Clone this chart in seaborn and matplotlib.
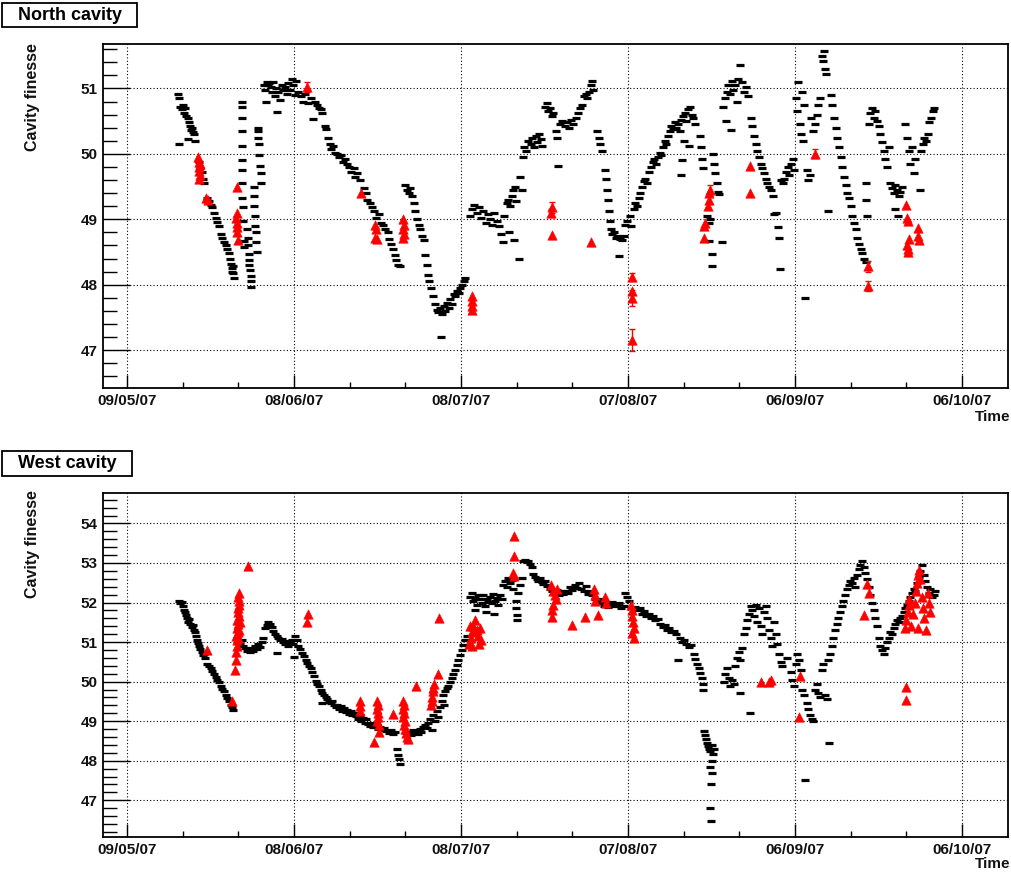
import numpy as np
import pandas as pd
import matplotlib
matplotlib.use("Agg")
import matplotlib.pyplot as plt
import matplotlib.dates as mdates
from matplotlib.ticker import FixedLocator, MultipleLocator
from matplotlib.patches import Rectangle
import seaborn as sns

START = "2007-05-09"
major_days = [0, 30, 60, 90, 120, 150]
minor_days = [10, 20, 40, 50, 70, 80, 100, 110, 130, 140]
north_yticks = [47, 48, 49, 50, 51]
west_yticks = [47, 48, 49, 50, 51, 52, 53, 54]

# (day since 09/05/07, finesse)
north_black = [
    (9.2,50.92),(9.3,50.85),(9.4,50.15),(9.6,50.72),(9.8,50.68),(10.0,50.74),(10.2,50.62),(10.4,50.70),
    (10.6,50.58),(10.9,50.55),(11.1,50.48),(11.3,50.42),(11.5,50.36),(11.7,50.40),(11.9,50.33),(12.1,50.30),
    (12.2,50.20),(11.0,50.22),
    (13.0,49.88),(13.2,49.78),(13.5,49.72),(13.7,49.62),(13.9,49.55),(14.4,49.32),(14.7,49.28),(15.0,49.22),
    (15.3,49.18),(15.6,49.10),(15.9,49.02),(16.2,48.96),(16.5,48.90),(16.8,48.78),(17.1,48.72),(17.4,48.66),
    (17.7,48.60),(18.0,48.55),(18.3,48.48),(18.5,48.40),(18.7,48.32),(18.9,48.25),(19.1,48.18),(19.2,48.10),
    (19.0,48.28),(18.8,48.20),
    (20.6,50.80),(20.6,50.72),(20.7,50.55),(20.6,50.35),(20.7,50.12),(20.6,49.90),(20.7,49.75),(20.6,49.55),
    (20.7,49.33),(20.8,49.18),(20.8,48.97),(21.0,48.67),(21.0,48.57),
    (21.6,48.85),(21.7,48.72),(21.8,48.60),(21.9,48.47),(22.0,48.38),(22.0,48.30),(22.1,48.22),(22.2,48.14),
    (22.2,48.05),(22.3,47.97),
    (22.8,49.50),(22.8,49.35),(22.9,49.20),(23.0,49.05),(23.0,48.90),(23.1,48.80),(23.2,48.65),(23.3,48.50),
    (23.5,50.40),(23.6,50.35),(23.6,50.25),(23.7,50.15),(23.8,49.98),(23.9,49.82),(24.0,49.70),(24.1,49.55),
    (24.6,51.05),(24.8,50.98),(24.9,50.80),(25.1,51.10),(25.3,51.05),(25.5,51.08),(25.8,51.02),(26.0,50.95),
    (26.3,51.10),(26.5,50.88),(26.8,51.00),(26.9,50.64),(27.2,50.95),(27.5,50.82),(27.8,51.05),(28.1,50.98),
    (28.4,51.02),(28.7,50.92),(29.0,51.08),(29.3,50.98),(29.6,51.15),(29.9,51.05),(30.2,50.90),(30.4,51.12),
    (30.8,50.95),(31.2,50.88),(31.6,50.80),(32.0,50.92),(32.5,50.78),(33.0,50.85),(33.4,50.53),(33.7,50.80),
    (34.1,50.75),(34.4,50.70),(34.8,50.68),(35.1,50.62),(35.5,50.42),(35.8,50.38),(36.1,50.25),(36.4,50.15),
    (36.7,50.08),(37.0,50.12),(37.3,50.02),
    (37.8,50.00),(38.1,49.95),(38.5,49.98),(38.8,49.88),(39.2,49.92),(39.5,49.85),(39.9,49.80),(40.3,49.72),
    (40.7,49.78),(41.0,49.65),(41.4,49.70),(41.8,49.60),
    (42.6,49.48),(42.9,49.40),(43.2,49.30),(43.6,49.25),(44.0,49.18),(44.4,49.12),(44.8,49.02),(45.2,49.08),
    (45.6,48.95),(46.0,48.92),(46.4,48.85),(46.8,48.80),(47.1,48.70),(47.4,48.62),(47.8,48.55),(48.1,48.45),
    (48.4,48.38),(48.7,48.30),(49.0,48.28),
    (50.0,49.52),(50.3,49.45),(50.6,49.40),(50.9,49.48),(51.2,49.35),(51.5,49.25),(51.8,49.12),(52.1,49.00),
    (52.4,48.92),(52.7,48.85),(53.0,48.75),(53.3,48.68),(53.5,48.45),(53.8,48.30),(54.0,48.15),(54.3,48.05),
    (54.6,47.95),(54.9,47.82),
    (55.3,47.70),(55.6,47.62),(55.9,47.58),(56.2,47.65),(56.4,47.20),(56.6,47.55),(56.9,47.68),(57.2,47.60),
    (57.5,47.72),(57.8,47.65),(58.1,47.78),(58.4,47.70),(58.7,47.85),(59.0,47.82),(59.3,47.90),(59.6,47.88),
    (59.9,47.95),(60.2,48.00),(60.5,48.05),(60.8,48.10),
    (61.6,49.05),(62.0,49.15),(62.4,49.22),(62.8,49.10),(63.2,49.18),(63.6,49.02),(64.0,49.12),(64.4,48.95),
    (64.8,49.08),(65.2,49.00),(65.6,48.92),(66.0,49.10),(66.4,48.98),(66.8,48.90),(67.2,48.78),(67.5,48.65),
    (67.8,49.05),
    (68.2,49.25),(68.5,49.30),(68.8,49.20),(69.1,49.35),(69.4,49.45),(69.7,49.50),(69.9,49.28),(68.7,48.80),
    (69.5,48.68),(70.5,48.40),(70.6,49.65),(70.9,49.45),(71.1,49.95),(71.4,50.10),(71.7,50.05),(72.0,50.20),
    (72.5,50.15),(72.8,50.25),(73.1,50.10),(73.4,50.28),(73.7,50.18),(74.0,50.30),(74.3,50.22),(74.6,50.12),
    (75.1,50.72),(75.4,50.78),(75.7,50.65),(76.0,50.70),(76.3,50.58),(76.6,50.62),
    (77.0,50.35),(77.3,50.25),(77.5,49.82),(77.8,50.45),(78.2,50.50),(78.6,50.42),(79.0,50.48),(79.4,50.40),
    (79.8,50.52),(80.2,50.45),(80.6,50.55),(81.0,50.62),(81.4,50.70),(81.8,50.75),(82.1,50.88),(82.4,50.92),
    (82.7,50.85),(83.0,50.95),(83.3,51.05),(83.5,51.12),(83.7,50.98),
    (84.4,50.35),(84.7,50.25),(85.0,50.15),(85.3,50.05),(85.9,49.75),(86.0,49.62),(86.2,49.45),(86.4,49.30),
    (86.6,49.12),(86.8,48.98),(87.0,48.85),(87.2,48.78),(87.5,48.80),(87.8,48.72),(88.1,48.75),(88.4,48.44),
    (88.6,48.70),(88.9,48.68),(89.2,48.75),(89.5,48.92),(89.9,48.98),(90.3,49.05),(90.6,48.90),
    (91.0,49.15),(91.3,49.25),(91.6,49.20),(91.9,49.32),(92.2,49.40),(92.5,49.50),(92.8,49.58),(93.1,49.62),
    (93.4,49.55),(93.8,49.72),(94.1,49.80),(94.4,49.88),(94.7,49.92),(95.0,49.85),(95.3,49.95),(95.7,50.02),
    (96.0,49.98),
    (96.3,50.10),(96.6,50.20),(96.9,50.15),(97.2,50.28),(97.5,50.35),(97.8,50.42),(98.1,50.38),(98.4,50.48),
    (98.7,50.40),(99.0,50.45),(99.3,50.35),(99.6,50.52),(99.9,50.58),(100.2,50.62),(100.5,50.50),(100.8,50.68),
    (101.1,50.72),(101.4,50.60),(101.7,50.55),(100.1,50.20),(101.0,50.12),(99.7,49.90),(99.6,49.67),(102.0,50.45),
    (102.9,50.28),(103.1,50.10),(103.3,49.92),(103.5,49.78),(104.2,49.05),(104.5,48.95),(104.8,49.00),(104.6,48.67),
    (105.0,48.47),(105.1,48.29),(105.2,50.00),(105.5,49.85),(105.7,49.70),(105.9,49.55),(106.1,49.42),(106.4,49.38),
    (106.9,48.66),
    (107.1,50.72),(107.4,50.85),(107.7,50.95),(108.0,51.05),(108.3,50.92),(108.6,51.12),(108.9,50.98),(109.2,51.05),
    (109.5,50.80),(109.8,51.15),(110.1,51.36),(107.6,50.51),(108.5,50.36),(110.4,51.10),(110.8,50.95),(111.2,51.02),
    (111.6,50.88),
    (112.0,50.55),(112.3,50.42),(112.6,50.28),(112.9,50.15),(113.2,50.05),(113.5,49.95),(113.8,49.85),(114.1,49.78),
    (114.4,49.70),(114.7,49.62),(115.0,49.55),(115.3,49.50),(115.6,49.45),(116.0,49.35),(116.3,49.08),(116.6,49.10),
    (116.9,48.88),(117.1,48.72),(117.3,48.24),(117.5,49.60),(117.8,49.55),
    (118.1,49.62),(118.4,49.72),(118.7,49.80),(119.0,49.68),(119.3,49.85),(119.6,49.92),(119.9,49.75),(120.2,50.85),
    (120.4,50.65),(120.6,51.10),(120.8,50.45),(121.0,50.30),(121.2,50.95),(121.4,50.20),(121.6,50.75),(121.8,47.80),
    (122.1,49.75),(122.4,49.60),(122.7,49.68),(122.9,50.55),(123.2,50.35),
    (123.6,50.45),(123.9,50.60),(124.2,50.75),(124.5,50.85),(124.8,51.50),(125.0,51.42),(125.3,51.30),(125.6,51.22),
    (125.2,51.58),(126.0,49.13),
    (126.4,50.90),(126.7,50.75),(127.0,50.55),(127.3,50.40),(127.6,50.25),(127.9,50.10),(128.2,49.95),(128.5,49.80),
    (128.8,49.65),(129.1,49.52),(129.4,49.40),(129.7,49.32),(130.0,49.20),(130.3,49.05),(130.6,48.95),(130.9,48.85),
    (131.2,48.72),(131.5,48.62),(131.8,48.55),(132.1,48.48),(132.4,48.40),(132.7,48.35),(132.8,49.55),(132.8,49.30),
    (132.9,49.05),
    (133.3,50.45),(133.5,50.62),(133.8,50.70),(134.1,50.55),(134.4,50.65),(134.7,50.50),(135.0,50.42),(135.3,50.30),
    (135.6,50.18),(135.9,50.05),(136.2,49.92),(136.5,49.80),(136.8,50.10),
    (137.1,49.55),(137.4,49.48),(137.7,49.40),(138.0,49.52),(138.3,49.45),(138.6,49.35),(138.9,49.42),(139.2,49.50),
    (138.0,49.15),(138.5,49.05),
    (139.8,50.45),(140.1,50.25),(140.4,50.05),(140.7,49.85),(141.0,50.10),(141.3,49.70),(141.6,49.92),(142.4,49.45),
    (142.6,50.05),(142.9,50.15),(143.2,50.25),(143.5,50.20),(143.8,50.30),(144.1,50.48),(144.4,50.55),(144.7,50.65),
    (144.9,50.70),
]

north_red = [
    (12.8,49.95),(12.9,49.88),(13.0,49.80),(12.9,49.74),(13.1,49.68),(13.0,49.62),(13.2,49.85),
    (14.2,49.32),(14.5,49.30),
    (19.8,49.50),(19.7,49.10),(19.6,49.02),(19.7,48.95),(19.8,48.88),(19.7,48.80),(19.9,48.68),
    (32.4,51.02),(42.1,49.40),
    (44.6,48.92),(44.8,48.85),(44.6,48.72),(44.9,48.70),
    (49.6,49.00),(49.7,48.92),(49.6,48.85),(49.7,48.78),(49.6,48.72),
    (61.9,47.82),(62.0,47.75),(61.9,47.68),(62.0,47.62),
    (76.3,49.18),(76.2,49.10),(76.4,48.76),(83.4,48.66),
    (90.7,48.12),(90.8,47.90),(90.7,47.80),(90.8,47.15),
    (103.6,48.72),(103.7,48.90),(103.9,48.95),(104.3,49.20),(104.5,49.30),(104.6,49.40),(104.7,49.45),
    (111.9,49.82),(111.9,49.40),(123.6,50.00),(133.1,48.28),(133.1,47.98),
    (139.9,49.22),(140.1,49.02),(140.3,48.98),(140.4,48.70),(140.2,48.55),(140.3,48.50),(140.1,48.60),
    (142.1,48.86),(142.2,48.68),(142.0,48.75),
]

# (day, finesse, error) for red points with visible error bars
north_red_err = [
    (32.4,51.02,0.08),(76.3,49.18,0.08),(76.2,49.10,0.06),(90.7,48.12,0.06),(90.7,47.80,0.12),
    (90.8,47.15,0.17),(104.7,49.45,0.08),(123.6,50.00,0.07),(133.1,48.28,0.08),(133.1,47.98,0.07),
]

west_black = [
    (9.4,52.05),(9.6,51.98),(9.8,52.02),(10.0,51.90),(10.2,51.82),(10.4,51.75),(10.6,51.68),(10.8,51.60),
    (11.0,51.52),(11.2,51.58),(11.4,51.45),(11.6,51.38),(11.8,51.42),(12.0,51.30),(12.2,51.25),(12.4,51.15),
    (12.6,51.05),(12.8,50.98),(13.0,50.90),(13.2,50.82),(13.4,50.75),(13.6,50.68),(13.8,50.70),(14.1,50.60),
    (14.4,50.45),(14.7,50.40),(15.0,50.35),(15.3,50.28),(15.6,50.20),(15.9,50.12),(16.2,50.05),(16.5,49.98),
    (16.8,49.90),(17.1,49.82),(17.4,49.75),(17.7,49.65),(18.0,49.58),(18.3,49.50),(18.6,49.42),(18.9,49.35),
    (19.0,49.28),
    (19.7,51.10),(20.0,51.00),(20.3,50.95),(20.6,51.05),(20.9,50.90),(21.2,50.85),(21.5,50.78),(21.8,50.82),
    (22.1,50.75),(22.4,50.85),(22.7,50.78),(23.0,50.90),(23.3,50.82),(23.6,50.95),(23.9,50.88),(24.2,51.00),
    (24.5,51.10),
    (24.8,51.35),(25.1,51.42),(25.4,51.50),(25.7,51.45),(26.0,51.38),(26.3,51.28),(26.6,51.20),(26.9,51.15),
    (27.2,51.10),(27.5,51.05),(27.8,51.08),(28.1,51.00),(28.4,50.95),(28.7,51.02),(29.0,50.90),(29.3,50.98),
    (29.6,51.05),(29.9,50.95),(30.2,51.15),(30.5,51.05),(30.8,50.90),(31.1,50.82),(31.4,50.72),(27.0,50.72),
    (30.0,50.62),
    (31.8,50.65),(32.1,50.55),(32.4,50.48),(32.7,50.40),(33.0,50.35),(33.3,50.25),(33.6,50.15),(33.9,50.02),
    (34.2,49.95),(34.5,49.88),(34.8,49.80),(35.1,49.72),(35.4,49.65),(35.7,49.60),(36.0,49.55),(36.3,49.48),
    (36.6,49.45),(36.9,49.52),(37.2,49.40),(37.5,49.35),(37.8,49.42),(38.1,49.30),(38.4,49.38),(38.7,49.25),
    (39.0,49.32),(39.3,49.22),(39.6,49.28),(39.9,49.18),(40.2,49.25),(40.5,49.15),(40.8,49.20),(35.0,49.45),
    (41.2,49.12),(41.5,49.05),(41.8,49.15),(42.1,49.00),(42.4,49.08),(42.7,48.95),(43.0,49.05),(43.3,48.92),
    (43.6,48.88),(43.9,48.95),(44.2,48.85),(44.6,48.90),(45.0,48.80),(45.4,48.85),(45.8,48.78),(46.2,48.82),
    (46.6,48.75),(47.0,48.70),(47.4,48.78),(47.8,48.68),(48.2,48.72),(48.5,48.30),(48.7,48.15),(48.9,48.05),
    (49.0,47.92),(50.2,48.70),
    (50.8,48.72),(51.1,48.65),(51.4,48.78),(51.7,48.70),(52.0,48.75),(52.3,48.68),(52.6,48.80),(52.9,48.72),
    (53.2,48.85),(53.5,48.90),(53.8,48.82),(54.1,48.95),(54.4,49.05),(54.7,48.78),(55.0,49.15),(55.3,49.00),
    (55.6,49.25),(55.9,49.10),(56.2,49.35),(56.5,49.50),(56.8,49.65),(57.1,49.75),(57.4,49.85),(57.7,49.90),
    (58.0,50.00),(58.3,50.10),(58.6,50.20),(58.9,50.30),(59.2,50.42),(59.5,50.55),(59.8,50.68),(60.1,50.80),
    (60.4,50.92),(60.7,51.05),(61.0,51.15),(57.0,49.40),
    (61.6,52.15),(61.9,52.25),(62.2,52.05),(62.5,52.12),(62.8,51.95),(63.1,52.20),(63.4,52.08),(63.7,52.00),
    (64.0,52.18),(64.3,51.92),(64.6,52.10),(64.9,52.02),(65.2,52.15),(65.5,51.98),(65.8,52.22),(66.1,52.05),
    (66.4,52.12),(66.7,51.95),(67.0,52.20),(67.3,52.10),(62.6,51.80),(64.5,51.75),(66.0,51.70),(67.6,52.45),
    (67.9,52.55),(68.2,52.40),(68.5,52.62),(68.8,52.50),(69.1,52.58),(69.4,52.35),(69.8,52.05),(69.9,51.85),
    (70.0,51.68),(70.1,51.55),(70.3,52.25),(70.6,52.45),(70.9,52.62),
    (71.2,53.05),(71.5,53.08),(71.8,53.02),(72.1,53.05),(72.4,52.98),(72.7,52.90),(73.0,52.72),(73.3,52.65),
    (73.6,52.60),(73.9,52.55),(74.2,52.62),(74.5,52.52),(74.8,52.48),(75.1,52.55),(75.4,52.42),(75.7,52.45),
    (76.0,52.35),(76.4,52.30),(76.8,52.25),(77.2,52.32),(77.6,52.20),(78.0,52.28),(78.4,52.22),(78.8,52.30),
    (79.2,52.25),
    (79.6,52.40),(80.0,52.32),(80.4,52.45),(80.8,52.38),(81.2,52.50),(81.6,52.35),(82.0,52.28),(82.4,52.42),
    (82.8,52.22),(83.2,52.30),(83.6,52.18),(84.0,52.10),(84.4,52.05),(84.8,51.98),(85.2,52.08),(85.6,51.92),
    (86.0,52.00),(86.4,51.88),(86.8,51.95),(87.2,52.02),(87.6,51.90),(88.0,51.95),(88.4,52.00),(88.8,51.85),
    (89.2,51.92),(89.5,52.25),(89.8,52.15),(90.2,52.05),
    (91.3,51.88),(91.7,51.80),(92.1,51.85),(92.5,51.72),(92.9,51.78),(93.3,51.65),(93.7,51.70),(94.1,51.60),
    (94.5,51.65),(94.9,51.55),(95.3,51.58),(95.8,51.45),(96.2,51.38),(96.6,51.42),(97.0,51.30),(97.4,51.35),
    (97.8,51.25),(98.2,51.28),(98.6,51.20),(99.3,51.10),(99.7,51.00),(100.1,51.05),(100.5,50.95),(100.9,50.88),
    (101.3,50.92),(99.0,50.55),(101.8,50.70),(102.1,50.58),(102.4,50.45),(102.7,50.35),(103.0,50.22),(103.3,50.10),
    (103.4,49.95),(103.5,49.80),
    (103.6,48.75),(103.8,48.65),(104.0,48.55),(104.2,48.45),(104.4,48.38),(104.6,48.30),(104.8,48.25),(105.0,48.40),
    (105.2,48.18),(105.0,48.00),(104.8,47.85),(105.0,47.70),(104.9,47.40),(104.8,46.80),(104.9,46.47),(105.4,48.30),
    (107.2,50.00),(107.5,50.20),(107.8,50.35),(108.1,50.10),(108.4,49.90),(108.7,50.05),(109.0,49.95),(109.3,50.40),
    (109.6,50.60),(109.9,50.75),(110.2,50.55),(110.5,50.85),(110.1,49.72),(110.8,51.20),(111.1,51.35),(111.4,51.55),
    (111.7,51.70),(112.0,51.90),(112.3,51.80),(112.6,51.65),(112.9,51.95),(113.2,51.50),(113.5,51.85),(113.8,51.40),
    (114.1,51.20),(114.4,51.75),(114.7,51.90),(115.0,51.60),(115.3,51.30),(115.6,51.10),(115.9,50.90),(116.2,51.50),
    (116.5,51.20),(116.8,50.95),(117.1,50.70),(117.4,50.50),(117.7,50.40),(111.9,49.20),(118.5,50.60),
    (119.2,50.25),(119.5,50.05),(119.8,49.90),(120.1,50.45),(120.4,50.70),(120.7,50.55),(121.0,50.30),(121.3,49.80),
    (121.6,49.65),(121.8,47.50),(122.1,49.45),(122.4,49.30),(122.7,49.15),(123.0,49.05),(123.3,49.00),(123.6,49.80),
    (123.9,49.95),(124.2,49.70),(124.5,49.60),(124.8,50.30),(125.1,50.45),(125.4,49.65),(125.7,49.55),(126.1,48.44),
    (126.0,50.55),
    (126.3,50.70),(126.6,50.90),(126.9,51.10),(127.2,51.30),(127.5,51.45),(127.8,51.60),(128.1,51.75),(128.4,51.90),
    (128.7,52.05),(129.0,52.20),(129.3,52.35),(129.6,52.45),(129.9,52.55),(130.2,52.50),(130.5,52.62),(130.8,52.40),
    (131.1,52.70),(131.4,52.85),(131.7,52.95),(132.0,53.05),(132.3,52.90),(132.6,52.75),(132.9,52.60),(133.2,52.40),
    (133.5,52.20),(133.8,52.00),(134.1,51.80),(134.4,51.60),(134.7,51.40),(135.0,51.10),(135.3,50.90),(135.6,50.80),
    (135.9,50.70),(136.2,50.85),(136.5,51.00),(136.8,51.10),(137.1,51.25),(137.4,51.20),(137.7,51.35),(138.0,51.45),
    (138.3,51.55),(138.6,51.50),(138.9,51.60),(139.2,51.65),(139.5,51.75),(139.8,51.85),(140.1,51.95),(140.4,52.05),
    (140.7,52.15),(141.0,52.25),(141.3,52.35),(141.6,52.30),(141.9,52.50),(142.2,52.65),(142.5,52.80),(142.8,52.95),
    (143.1,52.70),(143.4,52.55),(143.7,52.40),(144.0,52.25),(144.3,52.35),(144.6,52.15),(144.9,52.20),(145.2,52.28),
]

west_red = [
    (14.3,50.80),(18.8,49.52),
    (19.4,50.30),(19.5,50.55),(19.6,50.75),(19.7,50.90),(19.8,51.05),(19.6,51.15),(19.9,51.25),(19.7,51.35),
    (20.0,51.45),(19.8,51.55),(20.1,51.65),(19.9,51.75),(20.0,51.85),(20.1,51.95),(20.2,52.05),(20.0,52.15),
    (20.1,52.25),(19.9,51.10),(20.2,51.30),(20.3,51.50),
    (21.8,52.92),(32.5,51.72),(32.4,51.52),
    (41.8,49.50),(41.9,49.38),(41.8,49.25),(44.3,48.47),
    (44.9,49.50),(45.0,49.40),(44.9,49.30),(45.0,49.20),(45.1,49.10),(44.9,49.00),(45.2,48.90),(45.3,48.72),
    (47.8,49.19),
    (49.6,49.50),(49.7,49.40),(49.5,49.30),(49.8,49.20),(49.6,49.10),(49.9,49.00),(49.7,48.90),(50.0,48.80),
    (50.1,48.70),(50.3,48.60),(50.5,48.55),
    (51.9,49.90),
    (54.6,49.40),(54.8,49.50),(54.7,49.62),(54.9,49.75),(55.0,49.85),(55.1,49.95),(55.8,50.20),
    (56.1,51.62),
    (61.5,50.95),(61.8,51.10),(62.0,51.25),(62.2,51.40),(62.5,51.55),(62.8,51.30),(63.0,51.15),(63.2,50.95),
    (63.5,51.05),(62.0,50.90),(61.7,51.40),(63.4,51.35),
    (69.5,53.68),(69.5,53.17),(69.4,52.75),(69.6,52.68),
    (76.2,52.45),(76.5,52.30),(76.8,52.20),(77.0,52.10),(76.6,51.95),(76.3,51.80),(76.4,51.64),(77.2,52.35),
    (80.0,51.43),(82.2,51.64),
    (83.8,52.35),(84.0,52.20),(84.1,52.05),(84.6,51.68),(85.9,52.15),(86.1,52.00),
    (90.6,51.95),(90.8,51.80),(90.7,51.65),(90.9,51.50),(91.0,51.35),(90.8,51.22),(91.1,51.10),
    (113.8,49.98),(115.4,50.00),(115.6,50.05),
    (120.9,50.15),(120.7,49.10),
    (132.4,51.68),(133.0,52.48),(133.2,52.25),
    (139.9,49.87),(139.9,49.53),
    (139.8,51.35),(140.0,51.55),(140.2,51.75),(140.4,51.95),(140.5,52.10),(140.9,51.40),(141.2,51.70),(141.5,52.00),
    (141.7,52.30),(141.9,52.50),(142.1,52.70),(142.3,52.82),(142.5,52.60),(142.0,51.35),(142.8,52.15),(143.0,51.85),
    (143.2,51.60),(143.5,51.30),(144.0,52.00),(144.2,51.75),(143.8,52.25),
]

west_red_err = []

sns.set_theme(style="white")
plt.rcParams["font.family"] = ["Liberation Sans", "DejaVu Sans"]
plt.rcParams["font.weight"] = "bold"
plt.rcParams["axes.labelweight"] = "bold"

W, H = 1011, 873
fig = plt.figure(figsize=(W / 100, H / 100), dpi=100)
t0 = mdates.date2num(pd.Timestamp(START).to_pydatetime())


def px_rect(left, top, right, bottom):
    return [left / W, 1 - bottom / H, (right - left) / W, (bottom - top) / H]


def panel(rect, black, red, red_err, ylim, yticks, title, box, ylab_top, time_y):
    ax = fig.add_axes(px_rect(*rect))
    bdf = pd.DataFrame(black, columns=["day", "finesse"])
    bdf["t"] = t0 + bdf["day"]
    rdf = pd.DataFrame(red, columns=["day", "finesse"])
    rdf["t"] = t0 + rdf["day"]
    sns.scatterplot(data=bdf, x="t", y="finesse", marker="_", s=40, color="black",
                    linewidth=2.3, ax=ax, zorder=3, legend=False)
    if red_err:
        edf = pd.DataFrame(red_err, columns=["day", "finesse", "err"])
        ax.errorbar(t0 + edf["day"], edf["finesse"], yerr=edf["err"], fmt="none",
                    ecolor="red", elinewidth=1.0, capsize=2.5, capthick=1.0, zorder=4)
    sns.scatterplot(data=rdf, x="t", y="finesse", marker="^", s=46, color="red",
                    edgecolor="red", linewidth=0.4, ax=ax, zorder=5, legend=False)

    ax.set_xlim(t0 - 4.31, t0 + 158.25)
    ax.set_ylim(*ylim)
    ax.xaxis.set_major_locator(FixedLocator([t0 + d for d in major_days]))
    ax.xaxis.set_minor_locator(FixedLocator([t0 + d for d in minor_days]))
    ax.xaxis.set_major_formatter(mdates.DateFormatter("%d/%m/%y"))
    ax.yaxis.set_major_locator(FixedLocator(yticks))
    ax.yaxis.set_minor_locator(MultipleLocator(0.2))
    ax.set_xlabel("")
    ax.set_ylabel("")
    ax.tick_params(axis="x", which="major", direction="in", length=9.5, width=1.0,
                   labelsize=11, pad=4, color="black", labelcolor="#111111", bottom=True, top=False)
    ax.tick_params(axis="x", which="minor", direction="in", length=4.3, width=1.0,
                   color="black", bottom=True, top=False)
    ax.tick_params(axis="y", which="major", direction="in", length=19.5, width=1.0,
                   labelsize=11, pad=4, color="black", labelcolor="#111111", left=True, right=False)
    ax.tick_params(axis="y", which="minor", direction="in", length=10, width=1.0,
                   color="black", left=True, right=False)
    for lab in ax.get_xticklabels() + ax.get_yticklabels():
        lab.set_fontweight("bold")
    ax.grid(True, which="major", axis="both", color="black", linestyle=(0, (1, 2)),
            linewidth=0.8)
    ax.set_axisbelow(True)
    for sp in ax.spines.values():
        sp.set_color("black")
        sp.set_linewidth(1.3)
        sp.set_visible(True)

    bl, bt, br, bb = box
    fig.add_artist(Rectangle((bl / W, 1 - bb / H), (br - bl) / W, (bb - bt) / H,
                             transform=fig.transFigure, facecolor="white",
                             edgecolor="black", linewidth=1.3))
    fig.text((bl + br) / 2 / W, 1 - (bt + bb) / 2 / H, title, ha="center", va="center",
             fontsize=13, fontweight="bold", color="black")
    fig.text(32 / W, 1 - ylab_top / H, "Cavity finesse", rotation=90, ha="center",
             va="top", fontsize=11.5, fontweight="bold", color="#111111")
    fig.text(1010 / W, 1 - time_y / H, "Time", ha="right", va="center",
             fontsize=11, fontweight="bold", color="#111111")
    return ax


panel((103, 44, 1008, 388), north_black, north_red, north_red_err, (46.42, 51.68),
      north_yticks, "North cavity", (2, 3, 137, 27), 43, 417)
panel((103, 493, 1008, 837), west_black, west_red, west_red_err, (46.07, 54.77),
      west_yticks, "West cavity", (2, 451, 132, 476), 490, 864)

fig.savefig("out.png", dpi=100)
